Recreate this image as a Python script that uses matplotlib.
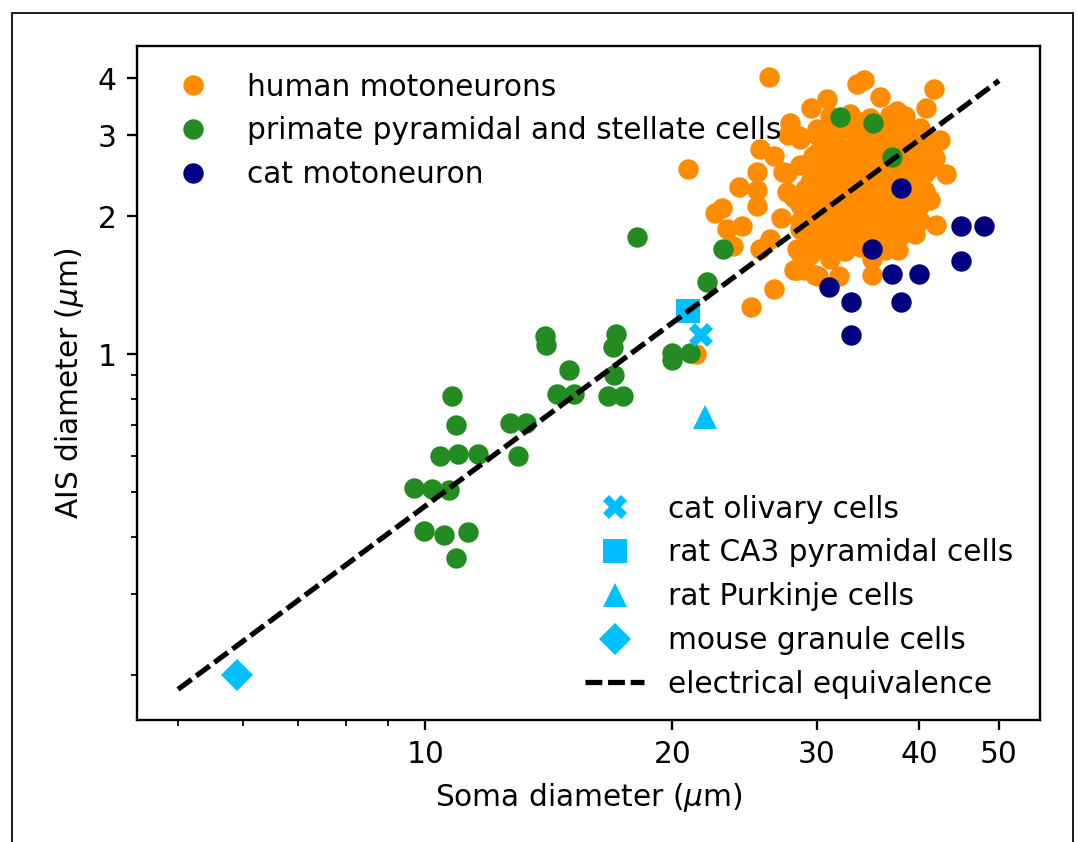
import matplotlib
matplotlib.use('Agg')
import matplotlib.pyplot as plt
from matplotlib.ticker import NullFormatter, FixedLocator, FixedFormatter
from matplotlib.patches import Rectangle

plt.rcParams['font.size'] = 10.15

# ---------------- data ----------------
human_x = [26.2, 20.9, 33.6, 34.2, 30.9, 29.5, 35.8, 37.6, 41.7, 40.8,
           27.8, 28.5, 30.0, 25.6, 26.6, 42.4, 43.1, 41.2, 41.9, 25.35,
           24.1, 25.35, 22.55, 23.0, 23.3, 24.3, 23.7, 27.1, 25.6, 26.3,
           26.6, 24.95, 28.35, 28.6, 30.1, 31.9, 31.1, 35.0, 35.0, 37.7,
           27.6, 27.6, 29.2, 30.0, 25.35, 28.1, 28.6, 28.35, 28.1, 28.9,
           29.85, 29.4, 29.4, 27.7, 28.6, 27.3, 28.6, 29.7, 30.0, 21.4,
           31.1, 32.9, 34.8, 36.8, 38.4,
           31.1, 32.9, 34.3, 36.3, 38.4, 40.1,
           30.7, 32.0, 33.4, 34.8, 36.3, 37.9, 39.5, 41.2,
           30.7, 32.0, 33.4, 34.8, 36.3, 38.4, 40.1, 41.8,
           29.8, 31.1, 32.5, 33.9, 35.3, 36.8, 39.0, 40.6,
           29.0, 30.3, 31.6, 32.9, 34.3, 35.8, 39.5, 40.6,
           28.6, 29.8, 31.1, 32.5, 33.9, 35.3, 36.8, 38.4, 40.1,
           28.6, 29.8, 31.1, 32.5, 33.9, 35.3, 36.8, 38.4, 40.1,
           30.3, 31.6, 32.9, 34.3, 35.8, 37.9, 39.5,
           30.7, 32.5, 33.9, 36.3,
           32.0, 33.9, 35.8, 37.6,
           30.3, 31.6, 33.9, 35.3, 37.0, 38.9, 40.6,
           31.4, 32.7, 34.1, 35.5, 37.1, 38.9, 40.6,
           30.2, 31.6, 33.0, 34.5, 36.0, 37.6, 39.4, 41.0,
           29.4, 30.7, 32.0, 33.4, 34.8, 36.3, 40.0,
           29.4, 30.7, 32.0, 33.4, 34.8, 36.3, 37.9, 39.0,
           29.2, 30.5, 31.9, 33.2, 34.6, 36.0, 37.6, 39.2,
           29.4, 30.7, 32.0, 33.4, 34.8, 36.6, 38.6,
           29.8, 31.4, 33.2, 35.0, 37.0]
human_y = [4.03, 2.53, 3.88, 3.96, 3.61, 3.45, 3.63, 3.40, 3.79, 3.45,
           3.19, 2.99, 3.00, 2.80, 2.71, 2.93, 2.47, 2.17, 1.91, 2.50,
           2.32, 2.11, 2.03, 2.08, 1.88, 1.90, 1.72, 1.98, 1.70, 1.78,
           1.39, 1.27, 1.53, 1.66, 1.48, 1.48, 1.61, 1.49, 1.61, 1.69,
           2.48, 2.26, 2.60, 2.74, 2.28, 2.19, 1.88, 1.70, 1.53, 1.53,
           1.49, 1.82, 1.65, 3.00, 2.95, 2.50, 2.58, 2.71, 3.10, 1.00,
           3.31, 3.34, 3.28, 3.33, 3.30,
           3.06, 3.10, 3.05, 3.09, 3.07, 3.11,
           2.87, 2.83, 2.86, 2.84, 2.88, 2.85, 2.82, 2.86,
           2.63, 2.67, 2.64, 2.66, 2.62, 2.66, 2.64, 2.68,
           2.44, 2.47, 2.45, 2.48, 2.44, 2.47, 2.45, 2.49,
           2.29, 2.26, 2.30, 2.27, 2.29, 2.26, 2.30, 2.27,
           2.12, 2.10, 2.13, 2.10, 2.12, 2.09, 2.13, 2.10, 2.12,
           1.95, 1.98, 1.94, 1.97, 1.95, 1.98, 1.94, 1.97, 1.95,
           1.83, 1.80, 1.83, 1.81, 1.84, 1.81, 1.83,
           1.70, 1.68, 1.71, 1.69,
           3.19, 3.21, 3.17, 3.20,
           2.96, 2.98, 2.95, 2.97, 2.94, 2.96, 2.99,
           2.75, 2.77, 2.74, 2.76, 2.73, 2.75, 2.77,
           2.55, 2.57, 2.54, 2.56, 2.53, 2.55, 2.57, 2.54,
           2.37, 2.39, 2.36, 2.38, 2.35, 2.37, 2.39,
           2.20, 2.22, 2.19, 2.21, 2.18, 2.20, 2.22, 2.19,
           2.03, 2.05, 2.02, 2.04, 2.01, 2.03, 2.05, 2.02,
           1.89, 1.90, 1.88, 1.89, 1.87, 1.89, 1.90,
           1.75, 1.76, 1.74, 1.75, 1.76]

primate_x = [10.78, 10.91, 10.43, 10.98, 11.59, 9.69, 10.19, 10.70, 9.97, 10.53,
             11.27, 10.91, 12.69, 13.27, 12.99, 14.00, 14.04, 14.99, 14.49, 15.19,
             17.07, 16.95, 17.00, 16.69, 17.41, 18.10, 23.04, 22.03, 19.98, 19.98,
             21.02, 32.02, 35.15, 37.07]
primate_y = [0.812, 0.702, 0.599, 0.605, 0.605, 0.510, 0.508, 0.505, 0.411, 0.404,
             0.409, 0.359, 0.707, 0.707, 0.600, 1.096, 1.046, 0.923, 0.819, 0.819,
             1.105, 1.037, 0.901, 0.812, 0.810, 1.805, 1.695, 1.438, 1.009, 0.972,
             1.009, 3.287, 3.189, 2.692]

cat_x = [38.0, 45.0, 48.0, 45.0, 35.0, 37.0, 40.0, 31.0, 33.0, 38.0, 33.0]
cat_y = [2.30, 1.90, 1.90, 1.60, 1.70, 1.50, 1.50, 1.40, 1.30, 1.30, 1.10]

olivary_x = [21.7]
olivary_y = [1.10]
ca3_x = [20.9]
ca3_y = [1.24]
purkinje_x = [21.9]
purkinje_y = [0.73]
granule_x = [5.9]
granule_y = [0.20]

equiv_x = [5.0, 50.0]
equiv_y = [0.186, 3.95]

x_ticks = [10, 20, 30, 40, 50]
x_tick_labels = ['10', '20', '30', '40', '50']
y_ticks = [1, 2, 3, 4]
y_tick_labels = ['1', '2', '3', '4']

# ---------------- figure ----------------
DPI = 210
W, H = 1078, 842
fig = plt.figure(figsize=(W / DPI, H / DPI), dpi=DPI)
ax = fig.add_axes([137 / W, 1 - 720 / H, (1040 - 137) / W, (720 - 46) / H])

c_orange = 'darkorange'
c_green = 'forestgreen'
c_navy = 'navy'
c_cyan = 'deepskyblue'

h1, = ax.plot(human_x, human_y, 'o', color=c_orange, ms=7, mew=0, ls='none',
              label='human motoneurons')
h2, = ax.plot(primate_x, primate_y, 'o', color=c_green, ms=7, mew=0, ls='none',
              label='primate pyramidal and stellate cells')
h3, = ax.plot(cat_x, cat_y, 'o', color=c_navy, ms=7, mew=0, ls='none',
              label='cat motoneuron')
h4, = ax.plot(olivary_x, olivary_y, 'X', color=c_cyan, ms=8, mew=0, ls='none',
              label='cat olivary cells')
h5, = ax.plot(ca3_x, ca3_y, 's', color=c_cyan, ms=8, mew=0, ls='none',
              label='rat CA3 pyramidal cells')
h6, = ax.plot(purkinje_x, purkinje_y, '^', color=c_cyan, ms=8, mew=0, ls='none',
              label='rat Purkinje cells')
h7, = ax.plot(granule_x, granule_y, 'D', color=c_cyan, ms=8, mew=0, ls='none',
              label='mouse granule cells')
h8, = ax.plot(equiv_x, equiv_y, color='black', lw=1.8, ls=(0, (3.2, 1.1)),
              label='electrical equivalence')

ax.set_xscale('log')
ax.set_yscale('log')

ax.xaxis.set_major_locator(FixedLocator(x_ticks))
ax.xaxis.set_major_formatter(FixedFormatter(x_tick_labels))
ax.xaxis.set_minor_formatter(NullFormatter())
ax.yaxis.set_major_locator(FixedLocator(y_ticks))
ax.yaxis.set_major_formatter(FixedFormatter(y_tick_labels))
ax.yaxis.set_minor_formatter(NullFormatter())

ax.set_xlabel(r'Soma diameter ($\mu$m)')
ax.set_ylabel(r'AIS diameter ($\mu$m)')

leg1 = ax.legend(handles=[h1, h2, h3], loc='upper left', frameon=False)
ax.add_artist(leg1)
ax.legend(handles=[h4, h5, h6, h7, h8], loc='lower right', frameon=False,
          bbox_to_anchor=(1.0, -0.008))

fig.add_artist(Rectangle((11.7 / W, -0.02), (1073.3 - 11.7) / W, 1 - 12.7 / H + 0.02,
                         transform=fig.transFigure, fill=False, lw=0.6,
                         ec='black', clip_on=False))

fig.savefig('out.png', dpi=DPI)
